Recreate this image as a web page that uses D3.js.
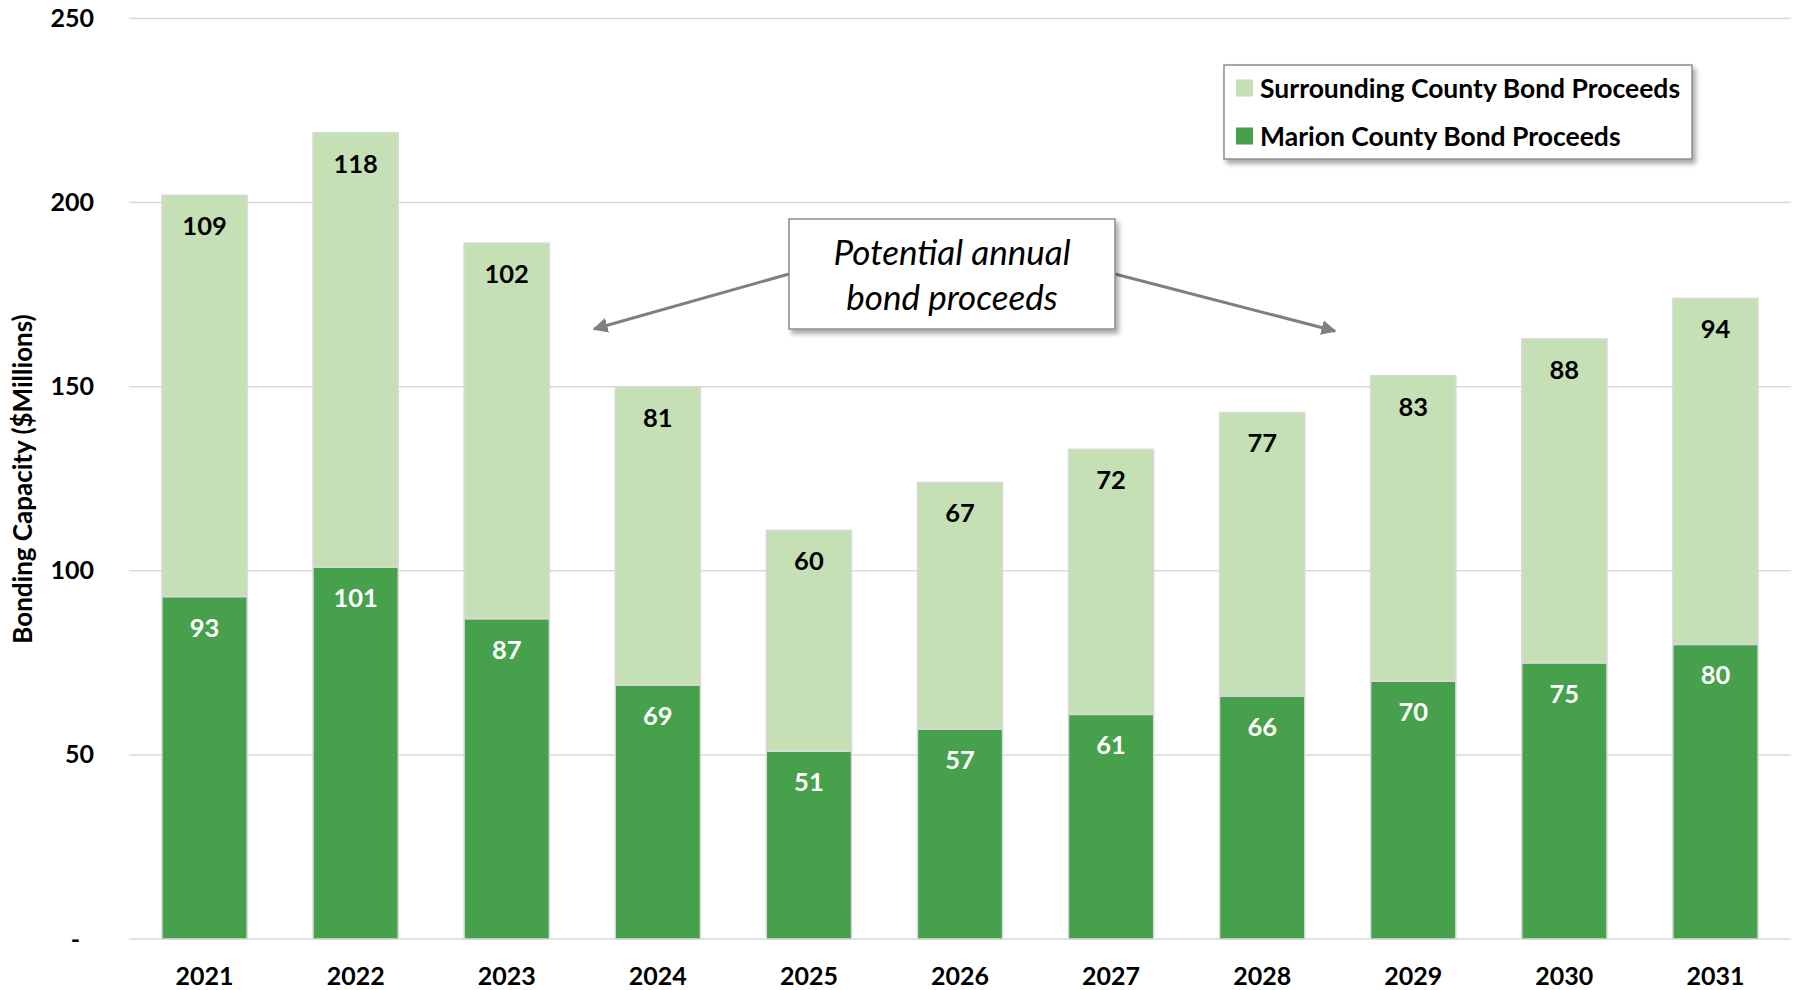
<!DOCTYPE html>
<html>
<head>
<meta charset="utf-8">
<script src="https://cdn.jsdelivr.net/npm/d3@7"></script>
<style>
  html, body { margin: 0; padding: 0; background: #fff; }
  svg { display: block; font-family: Lato, "Open Sans", sans-serif; }
</style>
</head>
<body>
<svg id="chart" width="1800" height="990"></svg>
<script>
// Annual bonding capacity, $ millions
const years = ["2021", "2022", "2023", "2024", "2025", "2026", "2027", "2028", "2029", "2030", "2031"];
const marion = [93, 101, 87, 69, 51, 57, 61, 66, 70, 75, 80];
const surrounding = [109, 118, 102, 81, 60, 67, 72, 77, 83, 88, 94];
const yTicks = [0, 50, 100, 150, 200, 250];
const yTickLabels = ["-", "50", "100", "150", "200", "250"];
const seriesNames = ["Marion County Bond Proceeds", "Surrounding County Bond Proceeds"];
const calloutLines = ["Potential annual", "bond proceeds"];

const colors = { marion: "#47a04b", surrounding: "#c5e0b4" };

const svg = d3.select("#chart");

const margin = { left: 129, right: 9, top: 18.5, bottom: 51 };
const W = 1800, H = 990;

const x = d3.scaleBand()
  .domain(years)
  .range([margin.left, W - margin.right])
  .paddingInner(0.436)
  .paddingOuter(0.218);

const y = d3.scaleLinear()
  .domain([0, 250])
  .range([H - margin.bottom, margin.top]);

// drop shadow for the legend and callout boxes
const defs = svg.append("defs");
const shadow = defs.append("filter").attr("id", "shadow")
  .attr("x", "-10%").attr("y", "-20%").attr("width", "130%").attr("height", "150%");
shadow.append("feDropShadow")
  .attr("dx", 3).attr("dy", 4).attr("stdDeviation", 2.5)
  .attr("flood-color", "#000").attr("flood-opacity", 0.35);

defs.append("marker").attr("id", "arrow")
  .attr("viewBox", "0 0 10 10").attr("refX", 9).attr("refY", 5)
  .attr("markerWidth", 5).attr("markerHeight", 5)
  .attr("orient", "auto-start-reverse")
  .append("path").attr("d", "M0,0 L10,5 L0,10 Z").attr("fill", "#7f7f7f");

// gridlines
svg.append("g").selectAll("line").data(yTicks).join("line")
  .attr("x1", margin.left).attr("x2", W - margin.right)
  .attr("y1", d => y(d)).attr("y2", d => y(d))
  .attr("stroke", "#d9d9d9").attr("stroke-width", 1.5);

// y axis labels
const yAxis = d3.axisLeft(y).tickValues(yTicks)
  .tickFormat((d, i) => yTickLabels[i]).tickSize(0).tickPadding(0);
const gy = svg.append("g").attr("transform", "translate(94,0)").call(yAxis);
gy.select(".domain").remove();
gy.selectAll("text")
  .attr("font-family", "Lato, sans-serif").attr("font-weight", 700)
  .attr("font-size", 25).attr("fill", "#000")
  .attr("dx", (d, i) => i === 0 ? -14 : 0);

// x axis labels
const xAxis = d3.axisBottom(x).tickSize(0).tickPadding(0);
const gx = svg.append("g").attr("transform", `translate(0,${y(0)})`).call(xAxis);
gx.select(".domain").remove();
gx.selectAll("text")
  .attr("font-family", "Lato, sans-serif").attr("font-weight", 700)
  .attr("font-size", 25).attr("fill", "#000")
  .attr("dy", 46);

// y axis title
svg.append("text")
  .attr("transform", "translate(32,479) rotate(-90)")
  .attr("text-anchor", "middle")
  .attr("font-family", "Lato, sans-serif").attr("font-weight", 700)
  .attr("font-size", 26).attr("fill", "#000")
  .text("Bonding Capacity ($Millions)");

// stacked bars
const table = years.map((yr, i) => ({ year: yr, marion: marion[i], surrounding: surrounding[i] }));
const stack = d3.stack().keys(["marion", "surrounding"])(table);

const layers = svg.append("g").selectAll("g").data(stack).join("g")
  .attr("fill", d => colors[d.key]);

layers.selectAll("rect").data(d => d).join("rect")
  .attr("x", d => x(d.data.year))
  .attr("width", x.bandwidth())
  .attr("y", d => y(d[1]))
  .attr("height", d => y(d[0]) - y(d[1]))
  .attr("stroke", "#d9d9d9").attr("stroke-width", 1.5);

// value labels, inside the top of each segment
layers.each(function(layer) {
  d3.select(this).selectAll("text").data(layer).join("text")
    .attr("x", d => x(d.data.year) + x.bandwidth() / 2)
    .attr("y", d => y(d[1]) + 40)
    .attr("text-anchor", "middle")
    .attr("font-family", "Lato, sans-serif").attr("font-weight", 700)
    .attr("font-size", 25.5)
    .attr("fill", layer.key === "marion" ? "#fff" : "#000")
    .text(d => d.data[layer.key]);
});

// legend
const legend = svg.append("g").attr("transform", "translate(1224,65)");
legend.append("rect").attr("width", 468).attr("height", 94)
  .attr("fill", "#fff").attr("stroke", "#8c8c8c").attr("stroke-width", 1.5)
  .attr("filter", "url(#shadow)");
const legendItems = [
  { name: seriesNames[1], color: colors.surrounding },
  { name: seriesNames[0], color: colors.marion }
];
const li = legend.selectAll("g.item").data(legendItems).join("g")
  .attr("class", "item")
  .attr("transform", (d, i) => `translate(12,${14.5 + i * 48})`);
li.append("rect").attr("width", 17).attr("height", 17).attr("fill", d => d.color);
li.append("text").attr("x", 24).attr("y", 18)
  .attr("font-family", "Lato, sans-serif").attr("font-weight", 700)
  .attr("font-size", 26.5).attr("fill", "#000")
  .text(d => d.name);

// callout with arrows
const arrows = [
  [[789, 274], [594, 329]],
  [[1115, 274], [1335, 331]]
];
svg.append("g").selectAll("line").data(arrows).join("line")
  .attr("x1", d => d[0][0]).attr("y1", d => d[0][1])
  .attr("x2", d => d[1][0]).attr("y2", d => d[1][1])
  .attr("stroke", "#7f7f7f").attr("stroke-width", 3)
  .attr("marker-end", "url(#arrow)");

const callout = svg.append("g").attr("transform", "translate(789,219)");
callout.append("rect").attr("width", 326).attr("height", 110)
  .attr("fill", "#fff").attr("stroke", "#8c8c8c").attr("stroke-width", 1.5)
  .attr("filter", "url(#shadow)");
callout.selectAll("text").data(calloutLines).join("text")
  .attr("x", 163).attr("y", (d, i) => 46 + i * 45)
  .attr("text-anchor", "middle")
  .attr("font-family", "Lato, sans-serif").attr("font-style", "italic")
  .attr("font-size", 35).attr("fill", "#000")
  .text(d => d);
</script>
</body>
</html>
